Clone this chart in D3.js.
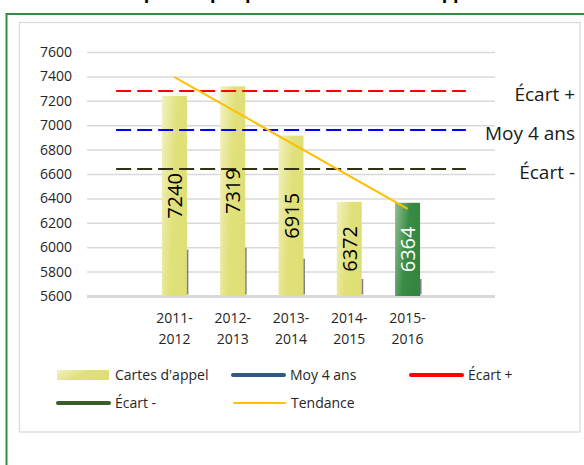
<!DOCTYPE html>
<html>
<head>
<meta charset="utf-8">
<script src="https://cdn.jsdelivr.net/npm/d3@7"></script>
<style>
  body { margin: 0; background: #fff; }
  text { font-family: "Open Sans", sans-serif; }
</style>
</head>
<body>
<svg id="chart"></svg>
<script>
let width = 584;
let height = 465;

// data
let periods = ['2011-2012', '2012-2013', '2013-2014', '2014-2015', '2015-2016'];
let cartes = [7240, 7319, 6915, 6372, 6364];
let shadowVals = [5980, 5995, 5905, 5740, 5740];
let moy4 = 6960;
let ecartPlus = 7280;
let ecartMoins = 6640;
let trendEnds = [7395, 6315];
let yTicks = [5600, 5800, 6000, 6200, 6400, 6600, 6800, 7000, 7200, 7400, 7600];

let slots = ['debut'].concat(periods, ['fin']);

let xScale = d3.scaleBand()
               .domain(slots)
               .range([87, 495])
               .padding(0);

let yScale = d3.scaleLinear()
               .domain([5600, 7600])
               .range([296, 52]);

let barW = 25;
let cx = d => xScale(d) + xScale.bandwidth() / 2;

let svg = d3.select('#chart')
    .attr('width', width)
    .attr('height', height);

let defs = svg.append('defs');
let g1 = defs.append('linearGradient').attr('id', 'gYellow')
    .attr('x1', 0).attr('y1', 0).attr('x2', 1).attr('y2', 0.35);
g1.append('stop').attr('offset', 0).attr('stop-color', '#f1f1c2');
g1.append('stop').attr('offset', 0.55).attr('stop-color', '#e1e17c');
g1.append('stop').attr('offset', 1).attr('stop-color', '#dfdf76');
let g2 = defs.append('linearGradient').attr('id', 'gGreen')
    .attr('x1', 0).attr('y1', 0).attr('x2', 1).attr('y2', 0.35);
g2.append('stop').attr('offset', 0).attr('stop-color', '#8fbf93');
g2.append('stop').attr('offset', 0.55).attr('stop-color', '#3a8c44');
g2.append('stop').attr('offset', 1).attr('stop-color', '#338540');

// clipped title
svg.append('text')
    .attr('x', 292).attr('y', -1)
    .attr('text-anchor', 'middle')
    .attr('font-size', 18).attr('font-weight', 'bold')
    .text("Comparatif par période des cartes d'appel");

// frames
svg.append('rect')
    .attr('x', 6.5).attr('y', 14).attr('width', 640).attr('height', 500)
    .attr('fill', '#fff').attr('stroke', '#3a8a45').attr('stroke-width', 2);
svg.append('rect')
    .attr('x', 19.5).attr('y', 22.5).attr('width', 560.5).attr('height', 409.5)
    .attr('fill', '#fff').attr('stroke', '#d9d9d9').attr('stroke-width', 1.2);

// y axis gridlines and labels
let yAxis = d3.axisLeft(yScale)
    .tickValues(yTicks)
    .tickSize(-(495 - 87))
    .tickPadding(15)
    .tickFormat(d3.format('d'));

let ya = svg.append('g')
    .attr('transform', 'translate(87,0)')
    .call(yAxis);
ya.select('.domain').remove();
ya.selectAll('line')
    .attr('stroke', '#d9d9d9')
    .attr('stroke-width', d => d === 5600 ? 3 : 1.5);
ya.selectAll('text')
    .attr('font-size', 14)
    .attr('fill', '#262626')
    .attr('font-family', 'Open Sans, sans-serif');

// bars
svg.selectAll('.bar')
  .data(periods)
  .enter()
  .append('rect')
    .attr('class', 'bar')
    .attr('x', d => cx(d) - barW / 2)
    .attr('y', (d, i) => yScale(cartes[i]))
    .attr('width', barW)
    .attr('height', (d, i) => yScale(5600) - yScale(cartes[i]))
    .attr('fill', (d, i) => i === periods.length - 1 ? 'url(#gGreen)' : 'url(#gYellow)');

// thin gray edges
svg.selectAll('.edge')
  .data(periods)
  .enter()
  .append('line')
    .attr('class', 'edge')
    .attr('x1', d => cx(d) + barW / 2 + 0.7)
    .attr('x2', d => cx(d) + barW / 2 + 0.7)
    .attr('y1', (d, i) => yScale(shadowVals[i]))
    .attr('y2', yScale(5600) - 1.5)
    .attr('stroke', '#7f7f7f')
    .attr('stroke-width', 1.5);

// reference lines
let refs = [
  { name: 'Écart +', v: ecartPlus, color: '#ff0000' },
  { name: 'Moy 4 ans', v: moy4, color: '#0000ff' },
  { name: 'Écart -', v: ecartMoins, color: '#333314' }
];

svg.selectAll('.ref')
  .data(refs)
  .enter()
  .append('line')
    .attr('class', 'ref')
    .attr('x1', cx('debut'))
    .attr('x2', cx('fin'))
    .attr('y1', d => yScale(d.v))
    .attr('y2', d => yScale(d.v))
    .attr('stroke', d => d.color)
    .attr('stroke-width', 2)
    .attr('stroke-dasharray', '15,6');

svg.selectAll('.refLabel')
  .data(refs)
  .enter()
  .append('text')
    .attr('class', 'refLabel')
    .attr('x', 575)
    .attr('y', d => yScale(d.v) + 10)
    .attr('text-anchor', 'end')
    .attr('font-size', 19)
    .attr('fill', '#1a1a1a')
    .text(d => d.name);

// bar value labels
svg.selectAll('.val')
  .data(periods)
  .enter()
  .append('text')
    .attr('class', 'val')
    .attr('transform', (d, i) => {
      let yy = (yScale(cartes[i]) + yScale(5600)) / 2;
      return `translate(${cx(d)},${yy}) rotate(-90)`;
    })
    .attr('text-anchor', 'middle')
    .attr('dominant-baseline', 'central')
    .attr('font-size', 20)
    .attr('fill', (d, i) => i === periods.length - 1 ? '#fff' : '#000')
    .text((d, i) => cartes[i]);

// trend line
svg.append('line')
    .attr('x1', cx(periods[0]))
    .attr('y1', yScale(trendEnds[0]))
    .attr('x2', cx(periods[periods.length - 1]))
    .attr('y2', yScale(trendEnds[1]))
    .attr('stroke', '#ffc000')
    .attr('stroke-width', 2);

// x labels
let xl = svg.selectAll('.xl')
  .data(periods)
  .enter()
  .append('text')
    .attr('class', 'xl')
    .attr('text-anchor', 'middle')
    .attr('font-size', 14)
    .attr('fill', '#262626');
xl.append('tspan')
    .attr('x', d => cx(d))
    .attr('y', 323)
    .text(d => d.split('-')[0] + '-');
xl.append('tspan')
    .attr('x', d => cx(d))
    .attr('y', 344)
    .text(d => d.split('-')[1]);

// legend
let legend = [
  { name: "Cartes d'appel", type: 'bar', x: 57, y: 375 },
  { name: 'Moy 4 ans', type: 'line', color: '#2e5a8a', w: 4, x: 232, y: 375 },
  { name: 'Écart +', type: 'line', color: '#ff0000', w: 4, x: 410, y: 375 },
  { name: 'Écart -', type: 'line', color: '#3b5e27', w: 4, x: 57, y: 403 },
  { name: 'Tendance', type: 'line', color: '#ffc000', w: 2, x: 233, y: 403 }
];

let lg = svg.selectAll('.lg')
  .data(legend)
  .enter()
  .append('g')
    .attr('class', 'lg');

lg.filter(d => d.type === 'bar')
  .append('rect')
    .attr('x', d => d.x)
    .attr('y', d => d.y - 5)
    .attr('width', 52)
    .attr('height', 10)
    .attr('fill', 'url(#gYellow)');

lg.filter(d => d.type === 'line')
  .append('line')
    .attr('x1', d => d.x + 1)
    .attr('x2', d => d.x + 52)
    .attr('y1', d => d.y)
    .attr('y2', d => d.y)
    .attr('stroke', d => d.color)
    .attr('stroke-width', d => d.w)
    .attr('stroke-linecap', 'round');

lg.append('text')
    .attr('x', d => d.x + 58)
    .attr('y', d => d.y + 5)
    .attr('font-size', 14)
    .attr('fill', '#262626')
    .text(d => d.name);
</script>
</body>
</html>
